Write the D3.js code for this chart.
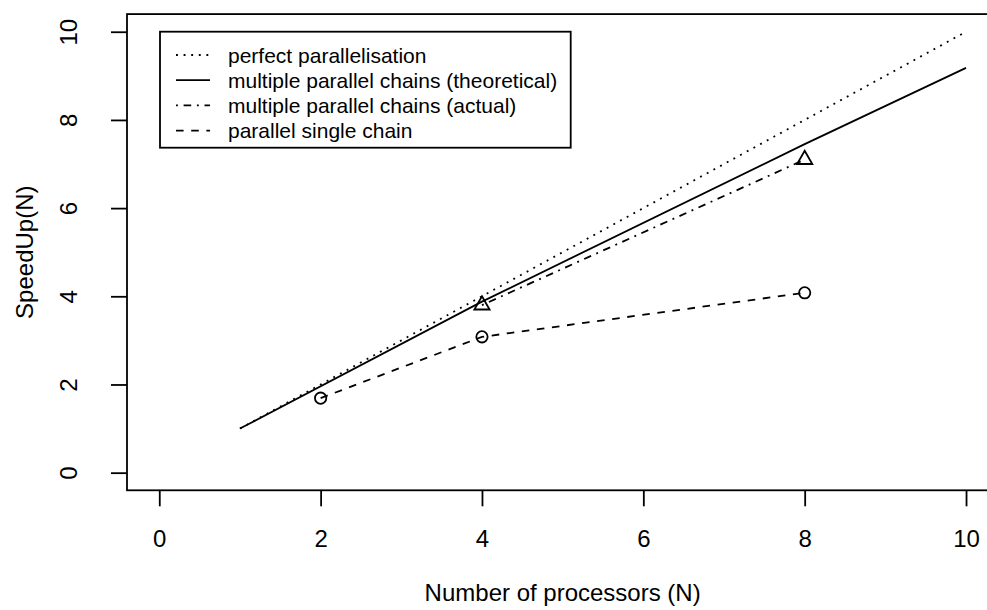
<!DOCTYPE html>
<html>
<head>
<meta charset="utf-8">
<script src="https://cdn.jsdelivr.net/npm/d3@7"></script>
<style>
    body { margin: 0; background: #fff; }
    svg { display: block; font-family: "Liberation Sans", Arial, sans-serif; }
</style>
</head>
<body>
<div id="chart"></div>
<script>
////////// DATA //////////

// perfect parallelisation: speedup == N
var perfect_n = [1, 10];
var perfect_s = [1, 10];

// multiple parallel chains (theoretical)
var theory_n = [1, 4, 8, 10];
var theory_s = [1, 3.88, 7.45, 9.18];

// multiple parallel chains (actual)
var actual_n = [4, 8];
var actual_s = [3.8, 7.1];

// parallel single chain
var single_n = [2, 4, 8];
var single_s = [1.69, 3.08, 4.08];

var x_ticks = [0, 2, 4, 6, 8, 10];
var y_ticks = [0, 2, 4, 6, 8, 10];

var legend_labels = [
    "perfect parallelisation",
    "multiple parallel chains (theoretical)",
    "multiple parallel chains (actual)",
    "parallel single chain"
];

////////// STYLE //////////

const W = 987, H = 610;
const LWD = 1.8;
const U = 1.9;   // lty unit in px
const DOTTED = [U, 3 * U].join(" ");
const DASHED = [4 * U, 4 * U].join(" ");
const DOTDASH = [U, 3 * U, 4 * U, 3 * U].join(" ");
const legend_dash = [DOTTED, null, DOTDASH, DASHED];

// plot region (R style: 4% padding around 0..10)
var x = d3.scaleLinear().domain([-0.4, 10.4]).range([127, 998.3]);
var y = d3.scaleLinear().domain([-0.4, 10.4]).range([490.3, 14.1]);

var svg = d3.select("#chart")
    .append("svg")
    .attr("width", W)
    .attr("height", H);

svg.append("rect").attr("width", W).attr("height", H).attr("fill", "#fff");

/**
 * zips two arrays into [x, y] pairs
 */
function zip(a, b) {
    return a.map((d, i) => [d, b[i]]);
}

var line = d3.line().x(d => x(d[0])).y(d => y(d[1]));

/**
 * draws one series as a path
 */
function draw_line(xs, ys, dash) {
    svg.append("path")
        .datum(zip(xs, ys))
        .attr("d", line)
        .attr("fill", "none")
        .attr("stroke", "#000")
        .attr("stroke-width", LWD)
        .attr("stroke-dasharray", dash);
}

draw_line(perfect_n, perfect_s, DOTTED);
draw_line(theory_n, theory_s, null);
draw_line(actual_n, actual_s, DOTDASH);
draw_line(single_n, single_s, DASHED);

// circles for the single chain
var R = 5.66;
svg.append("g")
    .selectAll("circle")
    .data(zip(single_n, single_s))
    .enter()
    .append("circle")
    .attr("cx", d => x(d[0]))
    .attr("cy", d => y(d[1]))
    .attr("r", R)
    .attr("fill", "none")
    .attr("stroke", "#000")
    .attr("stroke-width", LWD);

// triangles (R pch = 2) for the actual chains
var tr = 1.5551 * R;
var tri = d3.line()([[0, -tr], [1.3468 * R, 0.7776 * R], [-1.3468 * R, 0.7776 * R]]) + "Z";
svg.append("g")
    .selectAll("path")
    .data(zip(actual_n, actual_s))
    .enter()
    .append("path")
    .attr("transform", d => "translate(" + x(d[0]) + "," + y(d[1]) + ")")
    .attr("d", tri)
    .attr("fill", "none")
    .attr("stroke", "#000")
    .attr("stroke-width", LWD);

////////// BOX + AXES //////////

svg.append("rect")
    .attr("x", x(-0.4))
    .attr("y", y(10.4))
    .attr("width", x(10.4) - x(-0.4))
    .attr("height", y(-0.4) - y(10.4))
    .attr("fill", "none")
    .attr("stroke", "#000")
    .attr("stroke-width", LWD);

var xa = svg.append("g")
    .attr("transform", "translate(0," + y(-0.4) + ")")
    .call(d3.axisBottom(x).tickValues(x_ticks).tickSize(16).tickPadding(0).tickFormat(d3.format("d")));
var ya = svg.append("g")
    .attr("transform", "translate(" + x(-0.4) + ",0)")
    .call(d3.axisLeft(y).tickValues(y_ticks).tickSize(16).tickFormat(d3.format("d")));

[xa, ya].forEach(function(g) {
    g.select(".domain").remove();
    g.selectAll("line").attr("stroke", "#000").attr("stroke-width", LWD);
    g.selectAll("text").attr("fill", "#000").style("font-size", "24px");
});

xa.selectAll("text").attr("y", 56.7).attr("dy", null);
// R draws the y tick labels parallel to the axis
ya.selectAll("text")
    .attr("x", null).attr("dy", null)
    .attr("text-anchor", "middle")
    .attr("transform", "translate(-50,0) rotate(-90)");

svg.append("text")
    .attr("x", (x(-0.4) + x(10.4)) / 2)
    .attr("y", 601)
    .attr("text-anchor", "middle")
    .style("font-size", "24px")
    .text("Number of processors (N)");

svg.append("text")
    .attr("transform", "translate(33," + (y(-0.4) + y(10.4)) / 2 + ") rotate(-90)")
    .attr("text-anchor", "middle")
    .style("font-size", "24px")
    .text("SpeedUp(N)");

////////// LEGEND //////////

var lg = svg.append("g");
lg.append("rect")
    .attr("x", 160).attr("y", 31.7)
    .attr("width", 410.7).attr("height", 116)
    .attr("fill", "#fff")
    .attr("stroke", "#000")
    .attr("stroke-width", LWD);

legend_labels.forEach(function(label, i) {
    let cy = 55 + i * 25.2;
    lg.append("line")
        .attr("x1", 176).attr("x2", 210)
        .attr("y1", cy).attr("y2", cy)
        .attr("stroke", "#000")
        .attr("stroke-width", LWD)
        .attr("stroke-dasharray", legend_dash[i]);
    lg.append("text")
        .attr("x", 228)
        .attr("y", cy + 7.5)
        .style("font-size", "21px")
        .text(label);
});
</script>
</body>
</html>
